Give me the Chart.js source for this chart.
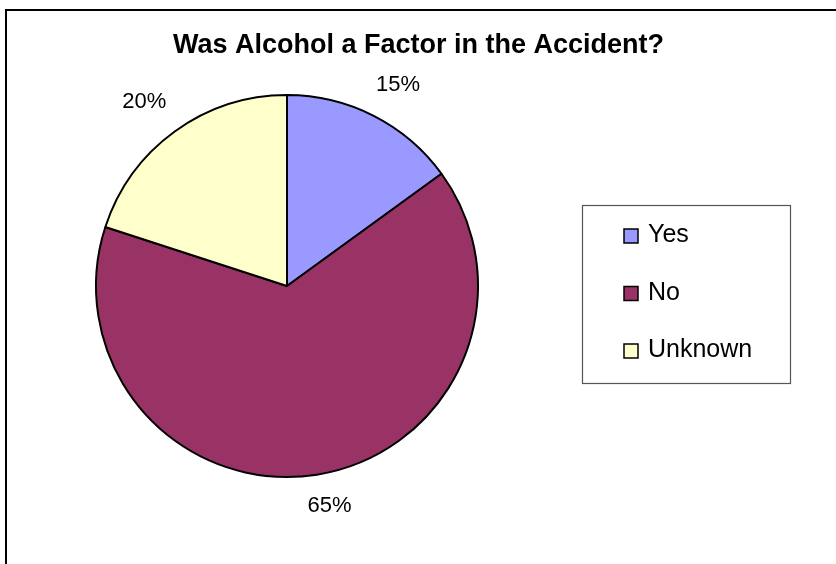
<!DOCTYPE html>
<html>
<head>
<meta charset="utf-8">
<title>Was Alcohol a Factor in the Accident?</title>
<script src="https://cdn.jsdelivr.net/npm/chart.js@4/dist/chart.umd.min.js"></script>
<style>
  html, body { margin: 0; padding: 0; background: #ffffff; }
  #wrap { width: 836px; height: 564px; }
</style>
</head>
<body>
<div id="wrap"><canvas id="c" width="836" height="564"></canvas></div>
<script>
// Survey answers and their shares (percent)
const categories = ['Yes', 'No', 'Unknown'];
const shares = [15, 65, 20];
const sliceColors = ['#9999FF', '#993366', '#FFFFCC'];
const chartTitle = 'Was Alcohol a Factor in the Accident?';

const FONT = '"Liberation Sans", Arial, sans-serif';

// Outer frame: top and left rules of the chart box
const framePlugin = {
  id: 'frame',
  beforeDraw(chart) {
    const ctx = chart.ctx;
    ctx.save();
    ctx.fillStyle = '#ffffff';
    ctx.fillRect(0, 0, chart.width, chart.height);
    ctx.strokeStyle = '#000000';
    ctx.lineWidth = 2;
    ctx.beginPath();
    ctx.moveTo(6, chart.height);
    ctx.lineTo(6, 10);
    ctx.lineTo(chart.width, 10);
    ctx.stroke();
    ctx.restore();
  }
};

// Title, percentage labels outside each slice, and the boxed legend
const decorPlugin = {
  id: 'decor',
  afterDatasetsDraw(chart) {
    const ctx = chart.ctx;
    ctx.save();

    // title
    ctx.fillStyle = '#000000';
    ctx.font = 'bold 27px ' + FONT;
    ctx.textAlign = 'center';
    ctx.textBaseline = 'alphabetic';
    ctx.fillText(chartTitle, 418.5, 53);

    // slice labels, pushed out past the rim and a little sideways
    const meta = chart.getDatasetMeta(0);
    ctx.font = '22px ' + FONT;
    ctx.textAlign = 'center';
    ctx.textBaseline = 'middle';
    meta.data.forEach((arc, i) => {
      const p = arc.getProps(['x', 'y', 'startAngle', 'endAngle', 'outerRadius'], true);
      const mid = (p.startAngle + p.endAngle) / 2;
      const txt = shares[i] + '%';
      const hw = ctx.measureText(txt).width / 2;
      const hh = 10;
      const c = Math.cos(mid), s = Math.sin(mid);
      const dist = p.outerRadius + 17 + hw * Math.abs(c) + hh * Math.abs(s);
      const nudge = Math.sign(c) * 8;
      ctx.fillText(txt, p.x + c * dist + nudge, p.y + s * dist + 1);
    });

    // legend box
    ctx.strokeStyle = '#555555';
    ctx.lineWidth = 1.2;
    ctx.strokeRect(582.5, 205.5, 208, 178);
    ctx.font = '25px ' + FONT;
    ctx.textAlign = 'left';
    ctx.textBaseline = 'alphabetic';
    categories.forEach((name, i) => {
      const base = 242 + i * 57.5;
      ctx.fillStyle = sliceColors[i];
      ctx.fillRect(624, base - 13, 14, 14);
      ctx.strokeStyle = '#000000';
      ctx.lineWidth = 1.5;
      ctx.strokeRect(624, base - 13, 14, 14);
      ctx.fillStyle = '#000000';
      ctx.fillText(name, 648, base);
    });

    ctx.restore();
  }
};

new Chart(document.getElementById('c'), {
  type: 'pie',
  data: {
    labels: categories,
    datasets: [{
      data: shares,
      backgroundColor: sliceColors,
      borderColor: '#000000',
      borderWidth: 2,
      hoverBorderWidth: 2,
      borderAlign: 'center'
    }]
  },
  options: {
    responsive: false,
    devicePixelRatio: 1,
    animation: false,
    events: [],
    rotation: 0,
    radius: 191,
    layout: { padding: { left: 95, right: 357, top: 94, bottom: 86 } },
    plugins: {
      legend: { display: false },
      title: { display: false },
      tooltip: { enabled: false }
    }
  },
  plugins: [framePlugin, decorPlugin]
});
</script>
</body>
</html>
